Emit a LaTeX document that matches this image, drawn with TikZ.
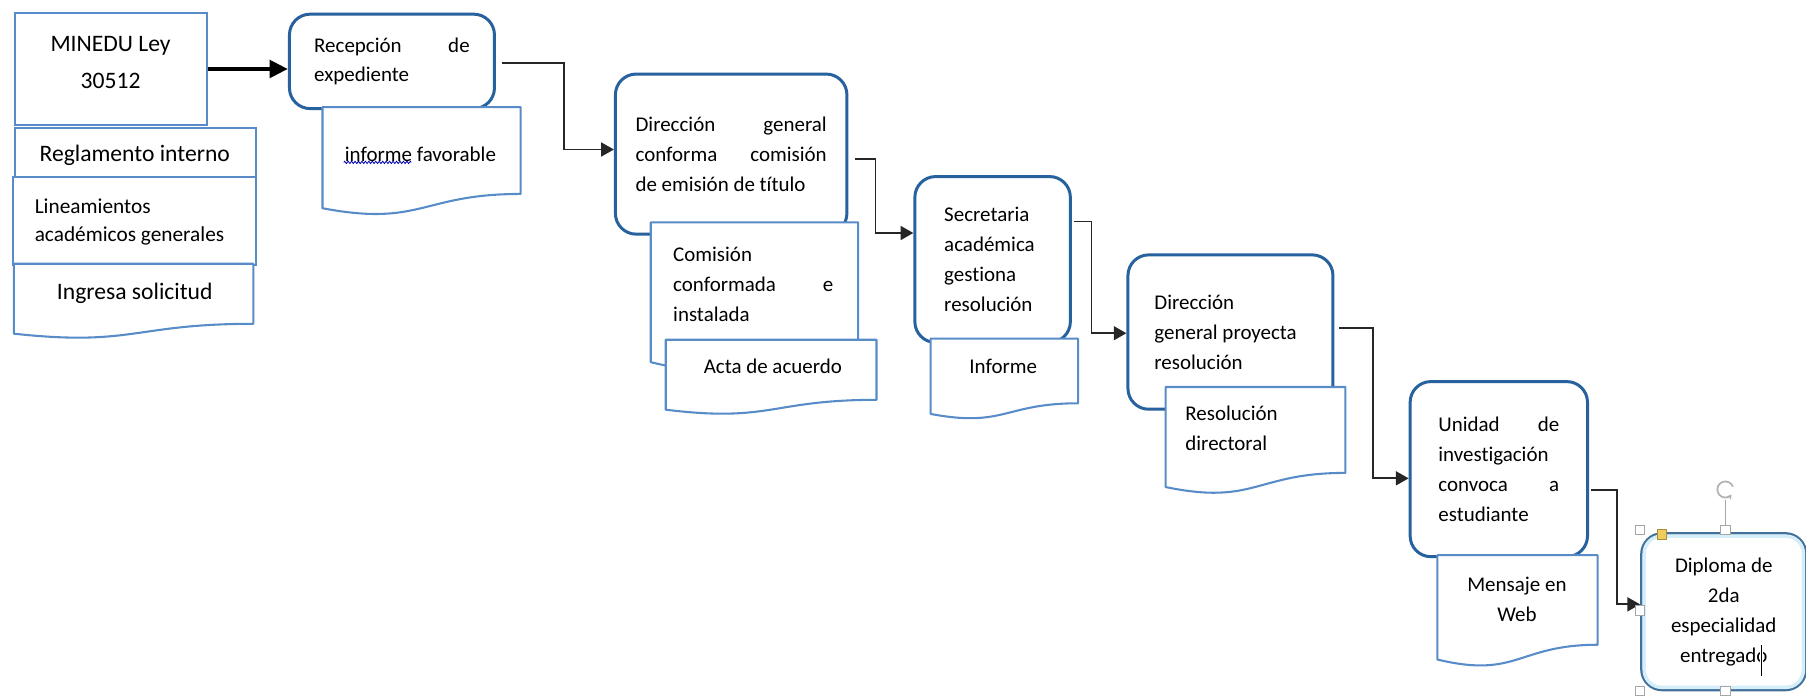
\documentclass[tikz,border=0pt]{standalone}
\usepackage{fontspec}
\setmainfont{Carlito}[Ligatures=NoCommon]
\usetikzlibrary{arrows.meta,calc,decorations.pathmorphing}
\definecolor{boxblue}{RGB}{40,98,158}
\definecolor{docblue}{RGB}{88,140,200}
\definecolor{dipblue}{RGB}{66,112,152}
\definecolor{glowc}{RGB}{212,238,250}
\definecolor{adjc}{RGB}{240,205,90}
\newcommand\mainsz{\fontsize{18.2}{26}\selectfont}
\newcommand\bigsz{\fontsize{20.5}{32}\selectfont}
\newcommand\lineasz{\fontsize{18.5}{24}\selectfont}
\newcommand\mydoc[4]{%
  \pgfmathsetmacro\mdH{#4-#2}%
  \pgfmathsetmacro\mdM{(#1+#3)/2}%
  \pgfmathsetmacro\mdR{#2+0.802*\mdH}%
  \pgfmathsetmacro\mdC{#2+1.107*\mdH}%
  \pgfmathsetmacro\mdL{#2+0.934*\mdH}%
  \draw[docsty] (#1,#2) -- (#3,#2) -- (#3,\mdR) .. controls (\mdM,\mdR) and (\mdM,\mdC) .. (#1,\mdL) -- cycle;}
\tikzset{
  rbox/.style={draw=boxblue, line width=2.6pt, rounded corners=18pt, fill=white, inner sep=0pt, font=\mainsz, align=flush left, anchor=north west},
  dipbox/.style={draw=dipblue, line width=2.2pt, rounded corners=18pt, fill=white, inner sep=0pt, font=\mainsz, align=center, anchor=north west},
  rect/.style={draw=docblue, line width=1.8pt, fill=white, inner sep=0pt, anchor=north west},
  docsty/.style={draw=docblue, line width=1.8pt, fill=white, line join=round},
  txt/.style={inner sep=0pt, font=\mainsz},
  conn/.style={draw=black!85, line width=1.6pt, -{Triangle[length=11pt,width=12pt]}},
  bigarrow/.style={draw=black, line width=4pt, -{Triangle[length=16pt,width=15pt]}},
  hsty/.style={draw=gray!70, fill=white, line width=0.8pt, minimum size=8pt, inner sep=0pt, rectangle}
}
\begin{document}
\begin{tikzpicture}[x=1pt,y=-1pt]
\useasboundingbox[fill=white] (0,0) rectangle (1568,604);

% left column
\node[rect, minimum width=167pt, minimum height=98pt] (minedu) at (12,10) {};
\node[txt, font=\bigsz, align=center] (minedut) at (96,54) {MINEDU Ley\\30512};
\node[rect, minimum width=209pt, minimum height=43pt] (regl) at (12,110) {};
\node[txt, font=\bigsz] (reglt) at (117,135) {Reglamento interno};
\node[rect, minimum width=211pt, minimum height=76pt] (linea) at (10,153) {};
\node[txt, font=\lineasz, align=flush left, anchor=west] (lineat) at (30,193) {Lineamientos\\académicos generales};
\mydoc{12}{229}{220}{294}
\node[txt, font=\bigsz] (ingr) at (117,255) {Ingresa solicitud};

% Recepcion
\node[rbox, minimum width=178pt, minimum height=82pt, text width=135pt] (recep) at (250,11) {Recepción\hfill de\\expediente};
\mydoc{280}{93}{452}{187}
\node[txt] (inf) at (365,134) {informe favorable};
\draw[blue!70!black, line width=0.7pt, decorate, decoration={zigzag, segment length=3pt, amplitude=1pt}] (298.5,141) -- (357,141);

% Direccion general
\node[rbox, minimum width=201pt, minimum height=139pt, text width=166pt] (dir1) at (533,63) {Dirección\hfill general\\conforma\hfill comisión\\de emisión de título};
\mydoc{565}{193}{745}{323}
\node[txt, text width=139pt, align=flush left] (comi) at (654,247) {Comisión\\conformada\hfill e\\instalada};
\mydoc{578}{295}{761}{360}
\node[txt] (acta) at (671,318) {Acta de acuerdo};

% Secretaria
\node[rbox, minimum width=135pt, minimum height=144pt, text width=84pt] (secr) at (793,152) {Secretaria\\académica\\gestiona\\resolución};
\mydoc{808}{294}{936}{364}
\node[txt] (info) at (871,318) {Informe};

% Direccion general proyecta
\node[rbox, minimum width=178pt, minimum height=134pt, text width=132pt] (dir2) at (978,220) {Dirección\\general proyecta\\resolución};
\mydoc{1012}{336}{1168}{429}
\node[txt, align=flush left, anchor=west] (reso) at (1029,372) {Resolución\\directoral};

% Unidad
\node[rbox, minimum width=154pt, minimum height=152pt, text width=105pt] (unid) at (1223,330) {Unidad\hfill de\\investigación\\convoca\hfill a\\estudiante};
\mydoc{1248}{482}{1387}{579}
\node[txt, align=center] (mens) at (1317,520) {Mensaje en\\Web};

% Diploma
\node[dipbox, minimum width=143pt, minimum height=136pt] (dip) at (1424,462) {Diploma de\\2da\\especialidad\\entregado};
\draw[glowc, line width=3pt, rounded corners=15pt] ([shift={(3.5pt,-3.5pt)}]dip.north west) rectangle ([shift={(-3.5pt,3.5pt)}]dip.south east);
\draw[white, line width=2.6pt] (1529,560) -- (1529,587);
\draw[black, line width=0.9pt] (1529,560) -- (1529,587);

% connectors
\draw[bigarrow] (minedu.east) -- (minedu.east -| recep.west);
\draw[conn] ([xshift=5pt,yshift=-1.5pt]recep.east) -- ++(54,0) |- ([yshift=4pt]dir1.west);
\draw[conn] ([xshift=6pt,yshift=-4pt]dir1.east) -- ++(17.5,0) |- ([yshift=23pt]secr.west);
\draw[conn] ([xshift=2pt,yshift=33pt]secr.east) -- ++(15,0) |- ([yshift=-1pt]dir2.west);
\draw[conn] ([xshift=4pt,yshift=3.4pt]dir2.east) -- ++(29.5,0) |- ([yshift=-8pt]unid.west);
\draw[conn] ([xshift=2pt,yshift=-18pt]unid.east) -- ++(22,0) |- ([yshift=6.4pt]dip.west);

% selection handles
\draw[gray!70, line width=0.8pt] (1498,460) -- (1498,434);
\draw[gray!60, line width=1.5pt, -{Stealth[length=4pt,width=5pt]}] (1498,425) ++(20:7pt) arc[start angle=20, end angle=320, radius=7pt];
\foreach \p [count=\i] in {(1424,460),(1498,460),(1424,530),(1424,600),(1498,600)}
  \node[hsty] (h\i) at \p {};
\node[hsty, fill=adjc, draw=adjc!70!black] (hadj) at (1443,464) {};
\end{tikzpicture}
\end{document}
